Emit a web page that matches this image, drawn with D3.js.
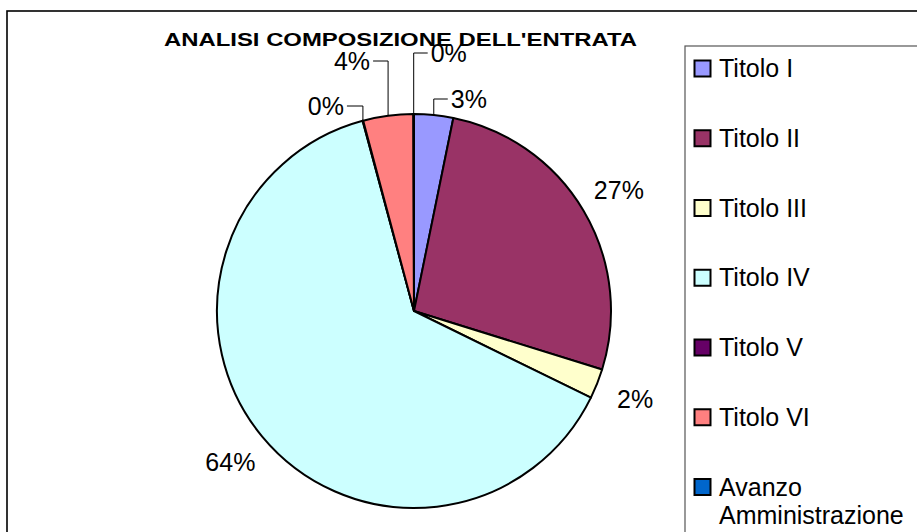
<!DOCTYPE html>
<html>
<head>
<meta charset="utf-8">
<script src="https://cdn.jsdelivr.net/npm/d3@7"></script>
<style>
  html, body { margin: 0; padding: 0; background: #fff; overflow: hidden; }
  svg { display: block; font-family: "Liberation Sans", Arial, sans-serif; }
</style>
</head>
<body>
<svg id="chart" width="917" height="532"></svg>
<script>
// ---- data ----
const title = "ANALISI COMPOSIZIONE DELL'ENTRATA";
const categories = ["Titolo I", "Titolo II", "Titolo III", "Titolo IV", "Titolo V", "Titolo VI", "Avanzo Amministrazione"];
const values = [3.2, 26.6, 2.45, 63.55, 0.05, 4.1, 0.05];
const colors = ["#9999FF", "#993366", "#FFFFCC", "#CCFFFF", "#660066", "#FF8080", "#0066CC"];
// label layout for small slices: leader elbow y and horizontal direction/length
const leaders = [
  { elbowY: 99, dx: 14 },
  null,
  null,
  null,
  { elbowY: 106, dx: -16 },
  { elbowY: 61, dx: -15 },
  { elbowY: 53, dx: 14 }
];

const svg = d3.select("#chart");
const W = 917, H = 532;

// outer chart border
svg.append("rect").attr("x", 7).attr("y", 11).attr("width", 1000).attr("height", 1000)
  .attr("fill", "#fff").attr("stroke", "#000").attr("stroke-width", 1.6);

// title
svg.append("text").attr("x", 400.5).attr("y", 45.7).attr("text-anchor", "middle")
  .attr("font-size", 19).attr("font-weight", "bold")
  .attr("textLength", 473).attr("lengthAdjust", "spacingAndGlyphs")
  .text(title);

// pie
const cx = 414, cy = 311, R = 197;
const total = d3.sum(values);
const pie = d3.pie().sort(null).value(d => d)(values);
const arc = d3.arc().innerRadius(0).outerRadius(R);
const g = svg.append("g").attr("transform", `translate(${cx},${cy})`);
g.selectAll("path.slice").data(pie).join("path").attr("class", "slice")
  .attr("d", arc)
  .attr("fill", (d, i) => colors[i])
  .attr("stroke", "#000").attr("stroke-width", 2).attr("stroke-linejoin", "round");

const fmt = v => Math.round(v / total * 100) + "%";
const labR = 238;
pie.forEach((d, i) => {
  const a = (d.startAngle + d.endAngle) / 2;
  const sx = Math.sin(a), sy = -Math.cos(a);
  const L = leaders[i];
  if (L) {
    const px = sx * R, py = sy * R;
    const ey = L.elbowY - cy;
    g.append("polyline")
      .attr("points", `${px},${py} ${px},${ey} ${px + L.dx},${ey}`)
      .attr("fill", "none").attr("stroke", "#000").attr("stroke-width", 1);
    g.append("text")
      .attr("x", px + L.dx + (L.dx > 0 ? 3 : -3)).attr("y", ey)
      .attr("dy", "0.35em")
      .attr("text-anchor", L.dx > 0 ? "start" : "end")
      .attr("font-size", 25)
      .text(fmt(values[i]));
  } else {
    g.append("text")
      .attr("x", sx * labR).attr("y", sy * labR)
      .attr("dy", "0.35em").attr("text-anchor", "middle")
      .attr("font-size", 25)
      .text(fmt(values[i]));
  }
});

// legend
const lg = svg.append("g");
lg.append("rect").attr("x", 685).attr("y", 46).attr("width", 300).attr("height", 600)
  .attr("fill", "#fff").attr("stroke", "#555").attr("stroke-width", 1.2);
const rowY = d3.scalePoint().domain(d3.range(categories.length)).range([77, 77 + 69.75 * 6]);
categories.forEach((c, i) => {
  const by = rowY(i);
  lg.append("rect").attr("x", 694.5).attr("y", by - 16.5).attr("width", 16).attr("height", 16)
    .attr("fill", colors[i]).attr("stroke", "#000").attr("stroke-width", 2);
  const words = c === "Avanzo Amministrazione" ? ["Avanzo", "Amministrazione"] : [c];
  const t = lg.append("text").attr("x", 719).attr("y", by).attr("font-size", 25);
  words.forEach((w, k) => {
    t.append("tspan").attr("x", 719).attr("dy", k === 0 ? 0 : 28).text(w);
  });
});
</script>
</body>
</html>
